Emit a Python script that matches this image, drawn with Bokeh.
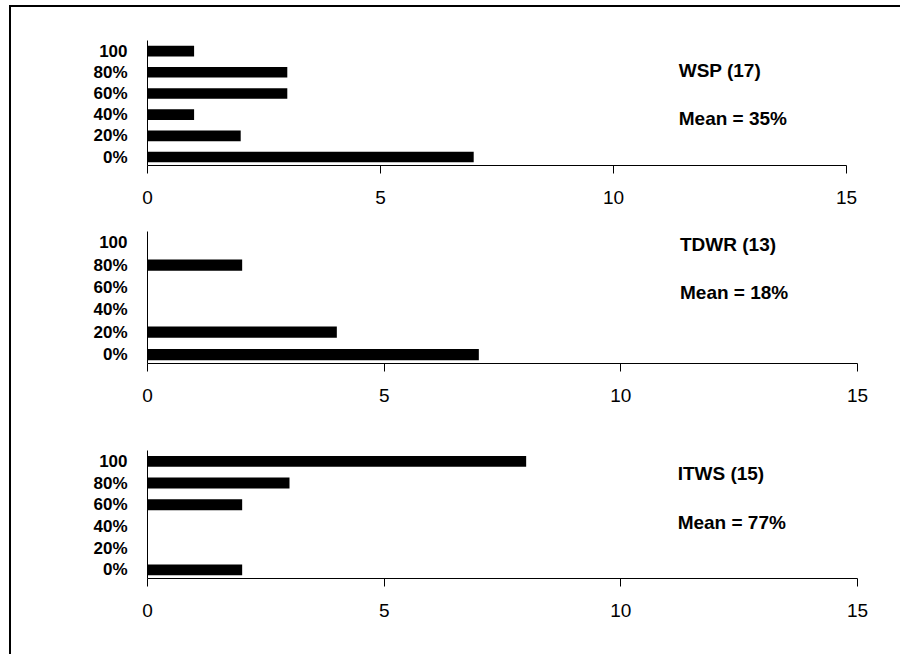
from bokeh.plotting import figure
from bokeh.layouts import column
from bokeh.models import Range1d, FixedTicker, Label, ColumnDataSource
from bokeh.embed import file_html
from bokeh.resources import INLINE

# ---- data ----
categories = ["0%", "20%", "40%", "60%", "80%", "100"]
wsp_counts = [7, 2, 1, 3, 3, 1]
tdwr_counts = [7, 4, 0, 0, 2, 0]
itws_counts = [2, 0, 0, 2, 3, 8]
titles = ["WSP (17)", "TDWR (13)", "ITWS (15)"]
means = ["Mean = 35%", "Mean = 18%", "Mean = 77%"]
x_ticks = [0, 5, 10, 15]

FONT = "Liberation Sans"


def panel(counts, title, mean, frame_w, frame_h, left, top, right, bottom,
          title_pos, mean_pos):
    p = figure(output_backend="svg", toolbar_location=None,
               frame_width=frame_w, frame_height=frame_h,
               min_border_left=left, min_border_top=top,
               min_border_right=right, min_border_bottom=bottom,
               x_range=Range1d(0, 15), y_range=Range1d(-0.4, 5.5),
               tools="")
    p.background_fill_color = "white"
    p.border_fill_color = "white"
    p.outline_line_color = None
    p.grid.visible = False

    idx = list(range(len(categories)))
    src = ColumnDataSource(dict(y=idx, right=counts))
    p.hbar(y="y", right="right", left=0, height=0.5, source=src,
           fill_color="black", line_color=None)

    xa = p.xaxis[0]
    xa.ticker = FixedTicker(ticks=x_ticks)
    xa.minor_tick_line_color = None
    xa.major_tick_in = 0
    xa.major_tick_out = 8
    xa.axis_line_color = "black"
    xa.major_tick_line_color = "black"
    xa.major_label_standoff = 17
    xa.major_label_text_font = FONT
    xa.major_label_text_font_size = "19px"
    xa.major_label_text_color = "black"

    ya = p.yaxis[0]
    ya.ticker = FixedTicker(ticks=idx)
    ya.major_label_overrides = {i: c for i, c in zip(idx, categories)}
    ya.minor_tick_line_color = None
    ya.major_tick_line_color = None
    ya.major_tick_in = 0
    ya.major_tick_out = 0
    ya.axis_line_color = "black"
    ya.major_label_standoff = 20
    ya.major_label_text_font = FONT
    ya.major_label_text_font_style = "bold"
    ya.major_label_text_font_size = "17px"
    ya.major_label_text_color = "black"

    for txt, (lx, ly) in ((title, title_pos), (mean, mean_pos)):
        p.add_layout(Label(x=lx, y=ly, text=txt, text_font=FONT,
                           text_font_style="bold", text_font_size="19px",
                           text_color="black", text_align="left",
                           text_baseline="middle"))
    return p


p1 = panel(wsp_counts, titles[0], means[0], 699, 125, 135, 33, 55, 50,
           (11.4, 4.08), (11.4, 1.82))
p2 = panel(tdwr_counts, titles[1], means[1], 710, 132, 136, 16, 43, 67,
           (11.25, 4.93), (11.25, 2.76))
p3 = panel(itws_counts, titles[2], means[2], 710, 128, 136, 20, 43, 76,
           (11.2, 4.44), (11.2, 2.18))

layout = column(p1, p2, p3, spacing=0, margin=(5, 0, 0, 9),
                styles={"border-top": "2px solid black",
                        "border-left": "2px solid black",
                        "border-right": "none",
                        "border-bottom": "none"})

open("out.html", "w").write(file_html(layout, INLINE))
